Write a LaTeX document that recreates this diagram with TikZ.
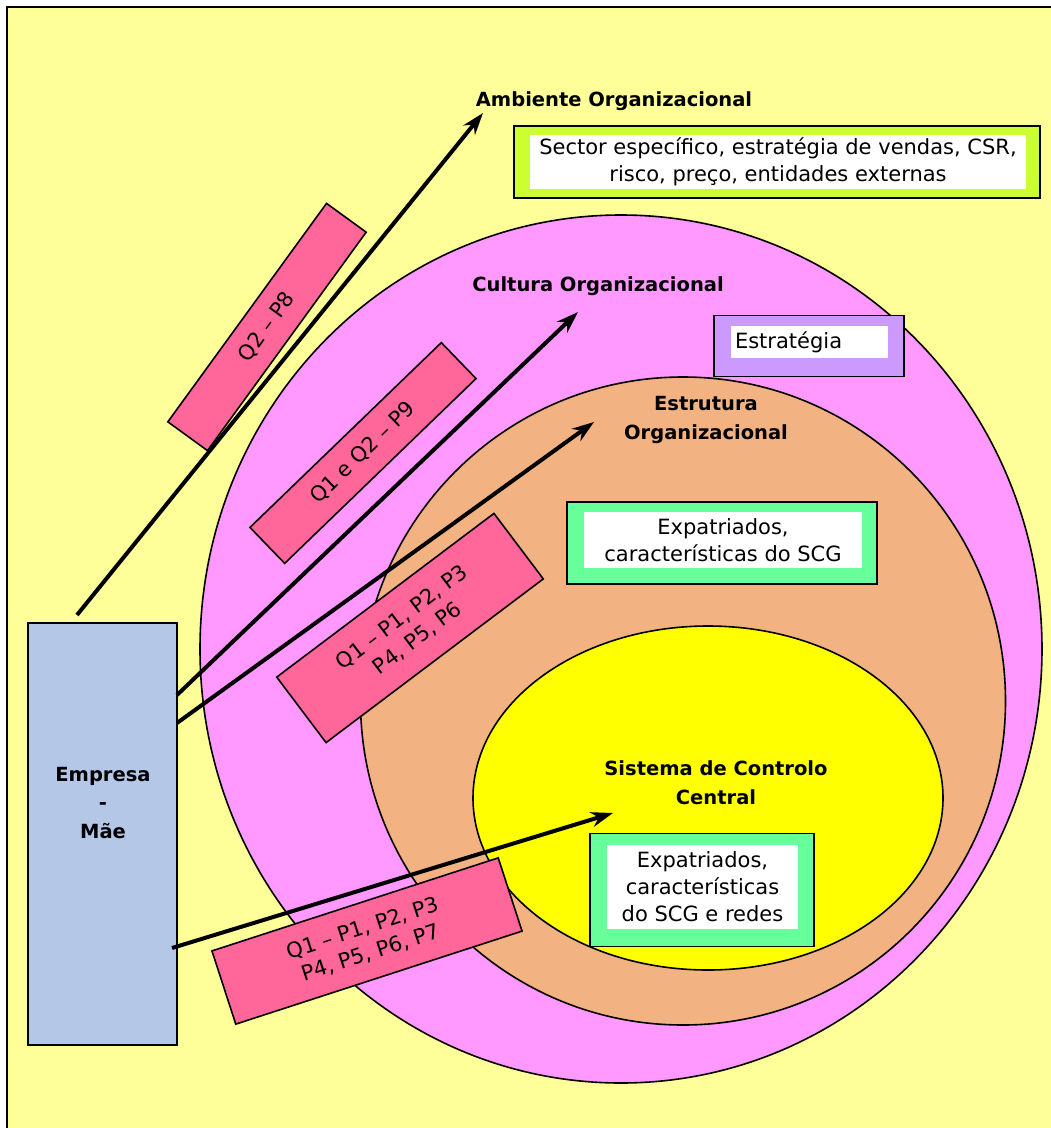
\documentclass[tikz,border=0pt]{standalone}
\usepackage{fontspec}
\setmainfont{DejaVu Sans}
\usetikzlibrary{arrows.meta,shapes.geometric}
\definecolor{paper}{RGB}{255,255,153}
\definecolor{cultpink}{RGB}{255,153,255}
\definecolor{estrorange}{RGB}{242,178,130}
\definecolor{scyellow}{RGB}{255,255,0}
\definecolor{maeblue}{RGB}{180,199,231}
\definecolor{qpink}{RGB}{255,102,153}
\definecolor{limegreen}{RGB}{204,255,51}
\definecolor{lavender}{RGB}{204,153,255}
\definecolor{mint}{RGB}{102,255,153}

\begin{document}
\begin{tikzpicture}[x=1pt,y=-1pt,
    every node/.style={font=\fontsize{21}{27}\selectfont},
    zone/.style={ellipse,draw,line width=1.6pt,inner sep=0pt},
    qbox/.style={draw,fill=qpink,line width=1.6pt,align=center,inner sep=0pt},
    outerbox/.style={draw,line width=1.8pt,inner sep=0pt},
    innerbox/.style={fill=white,inner sep=0pt,align=center},
    title/.style={font=\fontsize{19.5}{29}\selectfont\bfseries,align=center},
    arr/.style={line width=4pt,-{Stealth[length=22pt,width=15pt]}}]
  \useasboundingbox (0,0) rectangle (1051,1128);
  \fill[paper] (7,7) rectangle (1051,1128);
  \draw[line width=1.8pt] (7,1128) -- (7,7) -- (1051,7);

  % the three zones
  \node[zone,fill=cultpink,minimum width=842pt,minimum height=868pt] (cultura) at (621,649) {};
  \node[zone,fill=estrorange,minimum width=645pt,minimum height=648pt] (estrutura) at (683,701) {};
  \node[zone,fill=scyellow,minimum width=470pt,minimum height=344pt] (sistema) at (708,798) {};

  % boxes of factors
  \node[outerbox,fill=limegreen,minimum width=526pt,minimum height=72pt] (sectorbox) at (777,162) {};
  \node[innerbox,minimum width=496pt,minimum height=54pt] (sector) at (778,162)
    {Sector específico, estratégia de vendas, CSR,\\risco, preço, entidades externas};
  \node[outerbox,fill=lavender,minimum width=190pt,minimum height=61pt] (estratbox) at (809,346) {};
  \node[innerbox,text width=149pt,inner xsep=4pt,align=left,minimum height=32pt] (estrat) at (809.5,342) {Estratégia};
  \node[outerbox,fill=mint,minimum width=310pt,minimum height=82pt] (expabox) at (722,543) {};
  \node[innerbox,minimum width=278pt,minimum height=56pt] (expa) at (723,540)
    {Expatriados,\\características do SCG};
  \node[outerbox,fill=mint,minimum width=224pt,minimum height=113pt] (redesbox) at (702,890) {};
  \node[innerbox,minimum width=191pt,minimum height=84pt] (redes) at (702.5,887)
    {Expatriados,\\características\\do SCG e redes};

  % titles
  \node[title] (ambiente) at (614,101) {Ambiente Organizacional};
  \node[title] (cult) at (598,286) {Cultura Organizacional};
  \node[title] (estr) at (706,420) {Estrutura\\Organizacional};
  \node[title] (scc) at (716,783) {Sistema de Controlo\\Central};

  % question boxes
  \node[qbox,rotate=54,minimum width=270pt,minimum height=49pt] (q8) at (267,327) {Q2 – P8};
  \node[qbox,rotate=44,minimum width=266pt,minimum height=50pt] (q9) at (363,453) {Q1 e Q2 – P9};
  \node[qbox,rotate=37,minimum width=272pt,minimum height=82pt,font=\fontsize{21}{26}\selectfont] (qa) at (410,628)
    {Q1 – P1, P2, P3\\P4, P5, P6};
  \node[qbox,rotate=18,minimum width=301pt,minimum height=77pt,font=\fontsize{21}{26}\selectfont] (qb) at (367,941)
    {Q1 – P1, P2, P3\\P4, P5, P6, P7};

  % parent company
  \node[draw,fill=maeblue,line width=1.8pt,minimum width=149pt,minimum height=422pt] (mae) at (102.5,834) {};
  \node[title,font=\fontsize{19.5}{28.5}\selectfont\bfseries] (maetext) at (103,803) {Empresa\\-\\Mãe};

  % links
  \coordinate (s1) at (77,615);
  \coordinate (s2) at (177,695);
  \coordinate (s3) at (177,723);
  \coordinate (s4) at (172,948);
  \coordinate (t1) at (483,113);
  \coordinate (t2) at (578,312);
  \coordinate (t3) at (594,422);
  \coordinate (t4) at (613,813);
  \foreach \s/\t in {s1/t1,s2/t2,s3/t3,s4/t4}
    \draw[arr] (\s) -- (\t);
\end{tikzpicture}
\end{document}
